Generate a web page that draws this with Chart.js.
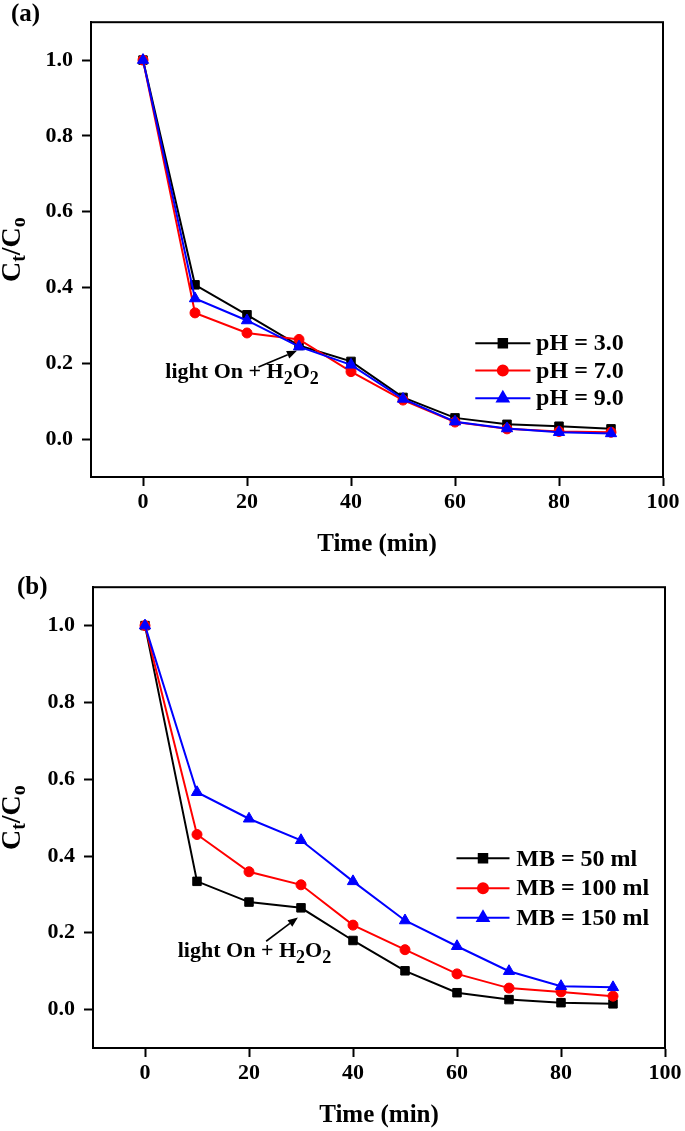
<!DOCTYPE html>
<html>
<head>
<meta charset="utf-8">
<script src="https://cdn.jsdelivr.net/npm/chart.js@4.4.1/dist/chart.umd.min.js"></script>
<style>
  html, body { margin: 0; padding: 0; background: #fff; }
  #wrap { position: relative; width: 685px; height: 1131px; }
  canvas { position: absolute; left: 0; }
</style>
</head>
<body>
<div id="wrap">
  <canvas id="chartA" width="685" height="565" style="top:0"></canvas>
  <canvas id="chartB" width="685" height="566" style="top:565px"></canvas>
</div>
<script>
/* ---------- data ---------- */
const timeMin = [0, 10, 20, 30, 40, 50, 60, 70, 80, 90];
const xTicks = [0, 20, 40, 60, 80, 100];
const yTicks = [0, 0.2, 0.4, 0.6, 0.8, 1.0];

// panel (a) : effect of pH
const labelsA = ["pH = 3.0", "pH = 7.0", "pH = 9.0"];
const pH3 = [1.0, 0.407, 0.328, 0.247, 0.205, 0.110, 0.056, 0.039, 0.034, 0.027];
const pH7 = [1.0, 0.333, 0.280, 0.263, 0.178, 0.103, 0.045, 0.027, 0.020, 0.018];
const pH9 = [1.0, 0.371, 0.313, 0.244, 0.196, 0.106, 0.046, 0.028, 0.018, 0.015];

// panel (b) : effect of MB volume
const labelsB = ["MB = 50 ml", "MB = 100 ml", "MB = 150 ml"];
const mb50  = [1.0, 0.334, 0.280, 0.265, 0.180, 0.101, 0.044, 0.026, 0.018, 0.015];
const mb100 = [1.0, 0.456, 0.359, 0.325, 0.220, 0.156, 0.093, 0.056, 0.046, 0.035];
const mb150 = [1.0, 0.566, 0.497, 0.441, 0.334, 0.232, 0.165, 0.100, 0.061, 0.058];

const SERIF = "'Liberation Serif', 'Times New Roman', serif";
Chart.defaults.font.family = SERIF;
Chart.defaults.color = "#000";

/* ---------- helpers ---------- */
// draw text pieces, [text, isSub]
function drawParts(ctx, parts, x, y, size, subSize, subShift) {
    let cx = x;
    parts.forEach(([t, sub]) => {
        ctx.font = "bold " + (sub ? subSize : size) + "px " + SERIF;
        ctx.fillText(t, cx, y + (sub ? subShift : 0));
        cx += ctx.measureText(t).width;
    });
    return cx - x;
}
function partsWidth(ctx, parts, size, subSize) {
    let w = 0;
    parts.forEach(([t, sub]) => {
        ctx.font = "bold " + (sub ? subSize : size) + "px " + SERIF;
        w += ctx.measureText(t).width;
    });
    return w;
}
function arrow(ctx, x0, y0, x1, y1) {
    const ang = Math.atan2(y1 - y0, x1 - x0);
    const hl = 10, hw = 4;
    ctx.beginPath();
    ctx.moveTo(x0, y0);
    ctx.lineTo(x1 - hl * Math.cos(ang), y1 - hl * Math.sin(ang));
    ctx.lineWidth = 1.6;
    ctx.stroke();
    ctx.beginPath();
    ctx.moveTo(x1, y1);
    ctx.lineTo(x1 - hl * Math.cos(ang) + hw * Math.sin(ang), y1 - hl * Math.sin(ang) - hw * Math.cos(ang));
    ctx.lineTo(x1 - hl * Math.cos(ang) - hw * Math.sin(ang), y1 - hl * Math.sin(ang) + hw * Math.cos(ang));
    ctx.closePath();
    ctx.fill();
}

/* ---------- decoration plugin: frame, titles, legend, note ---------- */
const decor = {
    id: "decor",
    afterDraw(chart, args, o) {
        const { ctx, chartArea: a, scales: { x, y } } = chart;
        ctx.save();
        ctx.strokeStyle = "#000";
        ctx.fillStyle = "#000";
        ctx.lineWidth = 2;
        ctx.strokeRect(a.left, a.top, a.width, a.height);

        // panel letter
        ctx.textAlign = "left";
        ctx.textBaseline = "middle";
        ctx.font = "bold 25px " + SERIF;
        ctx.fillText(o.panel, o.panelX, o.panelY);

        // x title
        ctx.textAlign = "center";
        ctx.font = "bold 25px " + SERIF;
        ctx.fillText("Time (min)", (a.left + a.right) / 2, a.bottom + 68);

        // y title Ct/Co
        const yParts = [["C", 0], ["t", 1], ["/", 0], ["C", 0], ["o", 1]];
        ctx.save();
        ctx.translate(13, (a.top + a.bottom) / 2);
        ctx.rotate(-Math.PI / 2);
        ctx.textAlign = "left";
        const w = partsWidth(ctx, yParts, 28, 20);
        drawParts(ctx, yParts, -w / 2, 0, 28, 20, 7);
        ctx.restore();

        // legend
        const L = o.legend;
        ctx.textAlign = "left";
        chart.data.datasets.forEach((ds, i) => {
            const ly = y.getPixelForValue(L.rows[i]);
            const lx0 = x.getPixelForValue(L.x0);
            const lx1 = x.getPixelForValue(L.x1);
            ctx.strokeStyle = ds.borderColor;
            ctx.fillStyle = ds.backgroundColor;
            ctx.lineWidth = ds.borderWidth;
            ctx.beginPath();
            ctx.moveTo(lx0, ly);
            ctx.lineTo(lx1, ly);
            ctx.stroke();
            Chart.helpers.drawPoint(ctx, {
                pointStyle: ds.pointStyle, radius: ds.pointRadius, rotation: 0, borderWidth: 1
            }, (lx0 + lx1) / 2, ly);
            ctx.fillStyle = "#000";
            ctx.font = "bold 24px " + SERIF;
            ctx.fillText(ds.label, x.getPixelForValue(L.tx), ly + 1);
        });

        // annotation
        const N = o.note;
        ctx.fillStyle = "#000";
        ctx.strokeStyle = "#000";
        ctx.textAlign = "left";
        drawParts(ctx, [["light On + H", 0], ["2", 1], ["O", 0], ["2", 1]],
            x.getPixelForValue(N.tx), y.getPixelForValue(N.ty), 22, 18, 7);
        arrow(ctx, x.getPixelForValue(N.ax0), y.getPixelForValue(N.ay0),
            x.getPixelForValue(N.ax1), y.getPixelForValue(N.ay1));
        ctx.restore();
    }
};

function series(label, values, color, style, radius, order) {
    return {
        label,
        data: timeMin.map((t, i) => ({ x: t, y: values[i] })),
        borderColor: color,
        backgroundColor: color,
        borderWidth: 2,
        pointStyle: style,
        pointRadius: radius,
        pointBorderWidth: 1,
        tension: 0,
        order
    };
}

function makeChart(id, datasets, pad, yWidth, xHeight, decorOpts) {
    return new Chart(document.getElementById(id), {
        type: "line",
        data: { datasets },
        plugins: [decor],
        options: {
            responsive: false,
            animation: false,
            layout: { padding: pad },
            plugins: {
                legend: { display: false },
                tooltip: { enabled: false },
                decor: decorOpts
            },
            scales: {
                x: {
                    type: "linear",
                    min: -10, max: 100,
                    afterBuildTicks: s => { s.ticks = xTicks.map(v => ({ value: v })); },
                    afterFit: s => { s.height = xHeight; },
                    grid: { drawOnChartArea: false, drawTicks: true, tickLength: 9, tickWidth: 2, tickColor: "#000" },
                    border: { display: true, color: "#000", width: 2 },
                    ticks: { color: "#000", padding: 3, maxRotation: 0, autoSkip: false,
                             font: { size: 22, weight: "bold" } }
                },
                y: {
                    min: -0.1, max: 1.1,
                    afterBuildTicks: s => { s.ticks = yTicks.map(v => ({ value: v })); },
                    afterFit: s => { s.width = yWidth; },
                    grid: { drawOnChartArea: false, drawTicks: true, tickLength: 9, tickWidth: 2, tickColor: "#000" },
                    border: { display: true, color: "#000", width: 2 },
                    ticks: { color: "#000", padding: 9, callback: v => v.toFixed(1),
                             font: { size: 22, weight: "bold" } }
                }
            }
        }
    });
}

/* ---------- panel (a) ---------- */
makeChart("chartA", [
    series(labelsA[0], pH3, "#000000", "rect", 6, 3),
    series(labelsA[1], pH7, "#ff0000", "circle", 5, 2),
    series(labelsA[2], pH9, "#0000ff", "triangle", 6.5, 1)
], { left: 0, right: 22, top: 14, bottom: 0 }, 91, 88, {
    panel: "(a)", panelX: 11, panelY: 15,
    legend: { x0: 63.9, x1: 74.5, tx: 75.6, rows: [0.253, 0.181, 0.108] },
    note: { tx: 4.3, ty: 0.177, ax0: 22.2, ay0: 0.19, ax1: 29.6, ay1: 0.233 }
});

/* ---------- panel (b) ---------- */
makeChart("chartB", [
    series(labelsB[0], mb50, "#000000", "rect", 6, 3),
    series(labelsB[1], mb100, "#ff0000", "circle", 5, 2),
    series(labelsB[2], mb150, "#0000ff", "triangle", 6.5, 1)
], { left: 0, right: 20, top: 19, bottom: 0 }, 93, 83, {
    panel: "(b)", panelX: 17, panelY: 23,
    legend: { x0: 59.9, x1: 70.1, tx: 71.4, rows: [0.394, 0.316, 0.239] },
    note: { tx: 6.3, ty: 0.153, ax0: 23.3, ay0: 0.178, ax1: 29.4, ay1: 0.24 }
});
</script>
</body>
</html>
